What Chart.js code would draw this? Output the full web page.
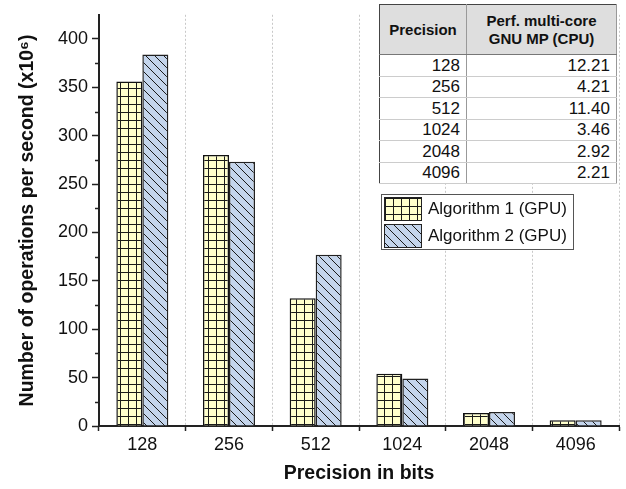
<!DOCTYPE html>
<html>
<head>
<meta charset="utf-8">
<script src="https://cdn.jsdelivr.net/npm/chart.js@4.4.0/dist/chart.umd.min.js"></script>
<style>
	body { margin: 0; background: #fff; font-family: 'Liberation Sans', Arial, sans-serif; }
	#wrap { position: relative; width: 626px; height: 489px; }
	#perf { position: absolute; left: 379px; top: 4px; width: 238px; border-collapse: collapse; border: 1px solid #444; background: #fff; font-size: 17px; color: #111; }
	#perf th { background: #dedede; font-weight: bold; font-size: 15px; height: 49px; border-bottom: 1px solid #777; border-right: 1px solid #999; line-height: 18px; padding: 0; }
	#perf td { height: 20.5px; padding: 0 6px 0 0; text-align: right; border-bottom: 1px solid #ccc; border-right: 1px solid #999; line-height: 19px; }
	#legend { position: absolute; left: 381px; top: 194px; width: 191px; height: 54px; border: 1px solid #555; background: #fff; font-size: 17px; color: #111; }
	#legend div { display: flex; align-items: center; height: 26px; margin-top: 1px; }
	#legend canvas { margin-left: 2px; margin-right: 6px; border: 1px solid #222; }
</style>
</head>
<body>
<div id="wrap">
	<canvas id="chart" width="626" height="489"></canvas>
	<table id="perf"></table>
	<div id="legend"></div>
</div>
<script>
const precisions = ['128', '256', '512', '1024', '2048', '4096'];
const algo1 = [356, 280, 132, 54, 13.5, 6];
const algo2 = [384, 273, 177, 49, 14.5, 6];
const cpuPerf = ['12.21', '4.21', '11.40', '3.46', '2.92', '2.21'];
const seriesNames = ['Algorithm 1 (GPU)', 'Algorithm 2 (GPU)'];
const tableHeader = ['Precision', 'Perf. multi-core<br>GNU MP (CPU)'];

function gridPattern () {
	const c = document.createElement('canvas');
	c.width = 8; c.height = 8;
	const g = c.getContext('2d');
	g.fillStyle = '#ffffcc';
	g.fillRect(0, 0, 8, 8);
	g.fillStyle = '#1a1a1a';
	g.fillRect(0, 0, 8, 1);
	g.fillRect(0, 0, 1, 8);
	return c;
}

function hatchPattern () {
	const c = document.createElement('canvas');
	c.width = 9; c.height = 9;
	const g = c.getContext('2d');
	g.fillStyle = '#c4d5ec';
	g.fillRect(0, 0, 9, 9);
	g.strokeStyle = '#1a1a1a';
	g.lineWidth = 1;
	g.beginPath();
	g.moveTo(-1, -1); g.lineTo(10, 10);
	g.moveTo(-1, 8); g.lineTo(1, 10);
	g.moveTo(8, -1); g.lineTo(10, 1);
	g.stroke();
	return c;
}

const ctx = document.getElementById('chart').getContext('2d');
const patterns = [ctx.createPattern(gridPattern(), 'repeat'), ctx.createPattern(hatchPattern(), 'repeat')];

// table
let html = `<tr><th style="width:86px">${tableHeader[0]}</th><th>${tableHeader[1]}</th></tr>`;
precisions.forEach((p, i) => {
	html += `<tr><td>${p}</td><td>${cpuPerf[i]}</td></tr>`;
});
document.getElementById('perf').innerHTML = html;

// legend
const legend = document.getElementById('legend');
seriesNames.forEach((name, i) => {
	const row = document.createElement('div');
	const sw = document.createElement('canvas');
	sw.width = 36; sw.height = 22;
	const g = sw.getContext('2d');
	g.fillStyle = g.createPattern(i === 0 ? gridPattern() : hatchPattern(), 'repeat');
	g.fillRect(0, 0, 36, 22);
	row.appendChild(sw);
	row.appendChild(document.createTextNode(name));
	legend.appendChild(row);
});

const minorTicks = {
	id: 'minorTicks',
	afterDraw (chart) {
		const y = chart.scales.y;
		const c = chart.ctx;
		c.save();
		c.strokeStyle = '#222';
		c.lineWidth = 1.5;
		for (let v = 25; v < y.max; v += 50) {
			const py = Math.round(y.getPixelForValue(v)) + 0.5;
			c.beginPath();
			c.moveTo(y.right - 4, py);
			c.lineTo(y.right, py);
			c.stroke();
		}
		c.restore();
	}
};

new Chart(ctx, {
	type: 'bar',
	data: {
		labels: precisions,
		datasets: [
			{ label: seriesNames[0], data: algo1, backgroundColor: patterns[0], borderColor: '#111', borderWidth: 1.5 },
			{ label: seriesNames[1], data: algo2, backgroundColor: patterns[1], borderColor: '#222', borderWidth: 1.5 }
		]
	},
	options: {
		responsive: false,
		animation: false,
		layout: { padding: { left: 16, right: 7, top: 6, bottom: 4 } },
		categoryPercentage: 0.6,
		barPercentage: 1,
		plugins: { legend: { display: false }, tooltip: { enabled: false } },
		scales: {
			x: {
				grid: { color: ctx => ctx.index === precisions.length ? 'rgba(0,0,0,0)' : '#c8c8c8', lineWidth: 1, tickColor: '#222', tickLength: 5, tickWidth: 1.5 },
				border: { color: '#222', width: 2, dash: [2, 2] },
				ticks: { color: '#111', font: { family: 'Liberation Sans', size: 18 }, padding: 3 },
				title: { display: true, text: 'Precision in bits', color: '#111', font: { family: 'Liberation Sans', size: 19.5, weight: 'bold' }, padding: { top: 5, bottom: 0 } },
				afterFit (scale) { scale.height = 59; }
			},
			y: {
				min: 0,
				max: 425,
				grid: { drawOnChartArea: false, tickColor: '#222', tickLength: 7, tickWidth: 1.5 },
				border: { color: '#222', width: 2 },
				ticks: { stepSize: 50, color: '#111', font: { family: 'Liberation Sans', size: 18 }, padding: 4 },
				afterBuildTicks (scale) { scale.ticks = scale.ticks.filter(t => t.value % 50 === 0); },
				title: { display: true, text: 'Number of operations per second (x10\u2076)', color: '#111', font: { family: 'Liberation Sans', size: 19.5, weight: 'bold' }, padding: { top: 0, bottom: 6 } },
				afterFit (scale) { scale.width = 83; }
			}
		}
	},
	plugins: [minorTicks]
});
</script>
</body>
</html>
